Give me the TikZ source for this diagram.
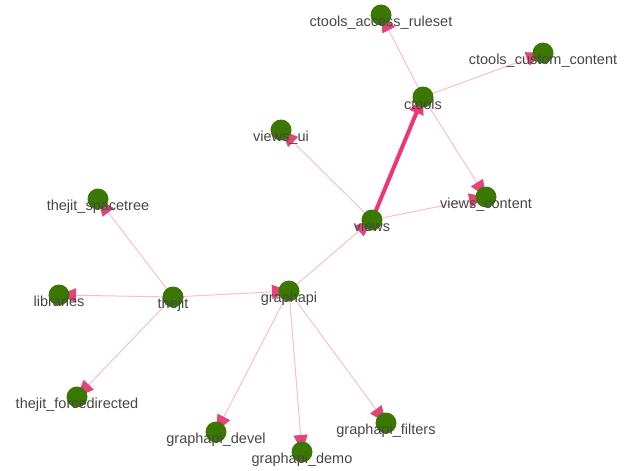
\documentclass[tikz,border=0pt]{standalone}
\usepackage{fontspec}
\setmainfont{Liberation Sans}
\usetikzlibrary{arrows.meta}
\pgfdeclarelayer{bg}
\pgfsetlayers{bg,main}
\definecolor{nodegreen}{RGB}{58,120,2}
\definecolor{edgepink}{RGB}{246,190,208}
\definecolor{strongpink}{RGB}{240,52,118}
\definecolor{arrowpink}{RGB}{226,70,120}
\definecolor{labelgray}{RGB}{70,70,70}
\begin{document}
\begin{tikzpicture}[x=1pt,y=-1pt,
  vnode/.style={circle,fill=nodegreen,minimum size=21pt,inner sep=0pt},
  vlabel/.style={anchor=base,text=labelgray,font=\fontsize{14.5}{16}\selectfont,inner sep=0pt},
  thinedge/.style={draw=edgepink,line width=1pt,-{Triangle[length=17pt,width=14pt,color=arrowpink]}},
  thickedge/.style={draw=strongpink,line width=4pt,-{Triangle[length=17pt,width=14pt,color=strongpink]}}]
\useasboundingbox (0,0) rectangle (625,471);
% nodes
\node[vnode] (car) at (381,15) {};
\node[vnode] (ccc) at (543,53) {};
\node[vnode] (ctools) at (423,97) {};
\node[vnode] (vui) at (281,130) {};
\node[vnode] (vcontent) at (486,197) {};
\node[vnode] (views) at (372,220) {};
\node[vnode] (jspace) at (98,199) {};
\node[vnode] (libs) at (59,295) {};
\node[vnode] (thejit) at (173,297) {};
\node[vnode] (gapi) at (289,291) {};
\node[vnode] (jforce) at (77,397) {};
\node[vnode] (gdevel) at (216,432) {};
\node[vnode] (gdemo) at (302,452) {};
\node[vnode] (gfilters) at (386,423) {};
% edges
\begin{pgfonlayer}{bg}
\draw[thickedge] (views.center) -- (ctools.center);
\draw[thinedge] (ctools.center) -- (car.center);
\draw[thinedge] (ctools.center) -- (ccc.center);
\draw[thinedge] (ctools.center) -- (vcontent.center);
\draw[thinedge] (views.center) -- (vui.center);
\draw[thinedge] (views.center) -- (vcontent.center);
\draw[thinedge] (gapi.center) -- (views.center);
\draw[thinedge] (thejit.center) -- (jspace.center);
\draw[thinedge] (thejit.center) -- (libs.center);
\draw[thinedge] (thejit.center) -- (jforce.center);
\draw[thinedge] (thejit.center) -- (gapi.center);
\draw[thinedge] (gapi.center) -- (gdevel.center);
\draw[thinedge] (gapi.center) -- (gdemo.center);
\draw[thinedge] (gapi.center) -- (gfilters.center);
\end{pgfonlayer}
% labels
\node[vlabel] (lcar) at (381,26.5) {ctools\_access\_ruleset};
\node[vlabel] (lccc) at (543,64.5) {ctools\_custom\_content};
\node[vlabel] (lctools) at (423,109) {ctools};
\node[vlabel] (lvui) at (281,141.5) {views\_ui};
\node[vlabel] (lvcontent) at (486,208.5) {views\_content};
\node[vlabel] (lviews) at (372,231.5) {views};
\node[vlabel] (ljspace) at (98,210.5) {thejit\_spacetree};
\node[vlabel] (llibs) at (59,306.5) {libraries};
\node[vlabel] (lthejit) at (173,308.5) {thejit};
\node[vlabel] (lgapi) at (289,302.5) {graphapi};
\node[vlabel] (ljforce) at (77,408.5) {thejit\_forcedirected};
\node[vlabel] (lgdevel) at (216,443.5) {graphapi\_devel};
\node[vlabel] (lgdemo) at (302,463.5) {graphapi\_demo};
\node[vlabel] (lgfilters) at (386,434.5) {graphapi\_filters};
\end{tikzpicture}
\end{document}
